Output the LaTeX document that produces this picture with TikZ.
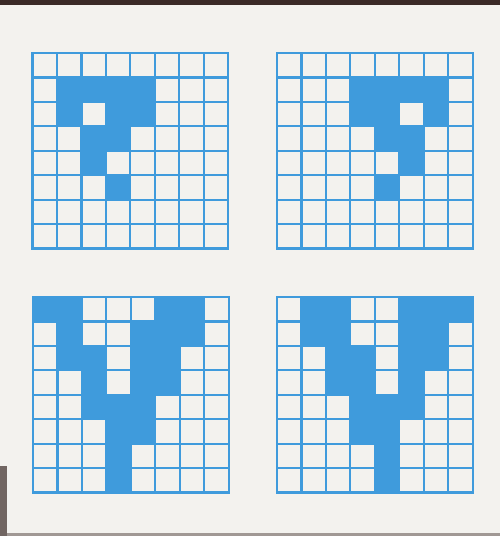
\documentclass[tikz,border=0pt]{standalone}
\usetikzlibrary{positioning}

\definecolor{gridblue}{HTML}{3F9BDC}
\definecolor{paper}{HTML}{F3F2EE}
\definecolor{scanedge}{HTML}{3A2A26}

\tikzstyle{pix} = [
fill=gridblue,
draw=none]
\tikzstyle{gridline} = [
draw=gridblue,
line width=2.2pt,
line cap=rect]

% one 8x8 board: shift, then list of filled row/col cells
\newcommand{\board}[2]{%
\begin{scope}[shift={#1}, x=24.45pt, y=-24.45pt]
\foreach \r/\c in {#2}
    \fill[pix] (\c,\r) rectangle (\c+1,\r+1);
\foreach \i in {0,...,8} {
    \draw[gridline] (\i,0) -- (\i,8);
    \draw[gridline] (0,\i) -- (8,\i);
}
\end{scope}}

\begin{document}
\begin{tikzpicture}[x=1pt, y=1pt]

\fill[paper] (0,0) rectangle (500,536);
\fill[scanedge] (0,531) rectangle (500,536);
\fill[scanedge!70!paper] (0,0) rectangle (7,70);
\fill[scanedge!45!paper] (7,0) rectangle (500,3);

% top row: the bird
\board{(32.5pt,483pt)}{1/1,1/2,1/3,1/4,2/1,2/3,2/4,3/2,3/3,4/2,5/3}
\board{(277pt,483pt)}{1/3,1/4,1/5,1/6,2/3,2/4,2/6,3/4,3/5,4/5,5/4}

% bottom row: the tree
\board{(33pt,239pt)}{0/0,0/1,0/5,0/6,1/1,1/4,1/5,1/6,2/1,2/2,2/4,2/5,3/2,3/4,3/5,4/2,4/3,4/4,5/3,5/4,6/3,7/3}
\board{(277pt,239pt)}{0/1,0/2,0/5,0/6,0/7,1/1,1/2,1/5,1/6,2/2,2/3,2/5,2/6,3/2,3/3,3/5,4/3,4/4,4/5,5/3,5/4,6/4,7/4}

\end{tikzpicture}
\end{document}
